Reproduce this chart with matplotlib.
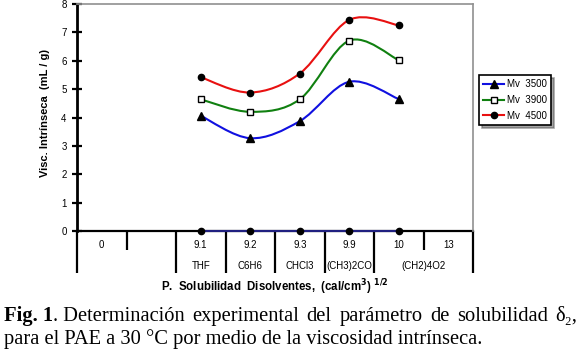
import matplotlib
matplotlib.use("Agg")
import matplotlib.pyplot as plt
import numpy as np
from matplotlib.path import Path
from matplotlib.patches import PathPatch
from matplotlib.lines import Line2D
import matplotlib.transforms as mtransforms

# ---- data ----
categories = ["0", "", "9.1", "9.2", "9.3", "9.9", "10", "13"]
groups = ["", "THF", "C6H6", "CHCl3", "(CH3)2CO", "(CH2)4O2"]
group_spans = [(0, 1), (2, 2), (3, 3), (4, 4), (5, 5), (6, 7)]
data_idx = [2, 3, 4, 5, 6]
mv3500 = [4.06, 3.27, 3.87, 5.26, 4.65]
mv3900 = [4.64, 4.20, 4.64, 6.71, 6.02]
mv4500 = [5.42, 4.88, 5.55, 7.44, 7.25]
zeros = [0, 0, 0, 0, 0]
series_names = ["Mv  3500", "Mv  3900", "Mv  4500"]

plt.rcParams['font.family'] = ['Liberation Sans', 'DejaVu Sans']

fig = plt.figure(figsize=(5.8, 3.55), dpi=100)
W, H = 580, 355
L, R, T, B = 77, 473, 4, 231
ax = fig.add_axes([L / W, (H - B) / H, (R - L) / W, (B - T) / H])
ax.set_xlim(-0.5, 7.5)
ax.set_ylim(0, 8)


def smooth_path(xs, ys):
    pts = np.column_stack([xs, ys]).astype(float)
    n = len(pts)
    verts = [pts[0]]
    codes = [Path.MOVETO]
    for i in range(n - 1):
        p0 = pts[max(i - 1, 0)]
        p1 = pts[i]
        p2 = pts[i + 1]
        p3 = pts[min(i + 2, n - 1)]
        c1 = p1 + (p2 - p0) / 6.0
        c2 = p2 - (p3 - p1) / 6.0
        verts += [c1, c2, p2]
        codes += [Path.CURVE4] * 3
    return Path(verts, codes)


colors = ["#1010e0", "#108010", "#e81010"]
markers = ["^", "s", "o"]
mfc = ["black", "white", "black"]
msz = [5.5, 4, 4.5]
for vals, c, m, fc, s in zip([mv3500, mv3900, mv4500], colors, markers, mfc, msz):
    ax.add_patch(PathPatch(smooth_path(data_idx, vals), fill=False,
                           edgecolor=c, lw=1.5, zorder=3))
    ax.plot(data_idx, vals, ls="none", marker=m, ms=s, mfc=fc, mec="black",
            mew=1.0, zorder=4, clip_on=False)

# zero series
ax.plot(data_idx, zeros, color="#202080", lw=1.5, marker="o", ms=4.5,
        mfc="black", mec="black", zorder=4, clip_on=False)

# spines
ax.spines['top'].set_color('#909090')
ax.spines['right'].set_color('#909090')
ax.spines['top'].set_linewidth(1.2)
ax.spines['right'].set_linewidth(1.2)
ax.spines['left'].set_linewidth(2)
ax.spines['bottom'].set_linewidth(1.6)
ax.spines['bottom'].set_zorder(2)

ax.set_yticks(range(0, 9))
ax.tick_params(axis='y', direction='inout', length=7, width=1.6, labelsize=7, pad=4)
ax.set_xticks([])

# multi-level category axis
trans = mtransforms.blended_transform_factory(ax.transData, ax.transAxes)
px = 1.0 / (B - T)
for i, lab in enumerate(categories):
    ax.text(i, -14 * px, lab, transform=trans, ha="center", va="center", fontsize=7)
for g, (a, b) in zip(groups, group_spans):
    ax.text((a + b) / 2.0, -35 * px, g, transform=trans, ha="center", va="center",
            fontsize=7)
# separators
group_edges = set([-0.5] + [b + 0.5 for (a, b) in group_spans])
for k in range(9):
    xe = -0.5 + k
    depth = 42 if xe in group_edges else 19
    ax.plot([xe, xe], [0, -depth * px], transform=trans, color="black", lw=1.6,
            clip_on=False, solid_capstyle="butt")

fig.text(45 / W, 1 - 113 / H, "Visc. Intrínseca  (mL / g)", rotation=90,
         fontsize=8, fontweight="bold", ha="center", va="center")
fig.text(275 / W, 1 - 287 / H,
         r"P.  Solubilidad  Disolventes,  (cal/cm$^{\mathbf{3}}$) $^{\mathbf{1/2}}$",
         ha="center", va="center", fontsize=8.3, fontweight="bold")

# legend
handles = [Line2D([], [], color=c, marker=m, ms=s, mfc=fc, mec="black", lw=1.5)
           for c, m, fc, s in zip(colors, markers, mfc, msz)]
leg = fig.legend(handles, series_names, loc="center",
                 bbox_to_anchor=(515 / W, 1 - 100 / H), fontsize=7,
                 frameon=True, fancybox=False, shadow=True, edgecolor="black",
                 handlelength=2.2, handletextpad=0.3, borderpad=0.4,
                 labelspacing=0.6, borderaxespad=0)
leg.get_frame().set_linewidth(1.2)

# caption (line 1 justified)
cap_fs = 14.8
serif = ["Liberation Serif", "DejaVu Serif"]
x0, x_end = 4, 577
base1, base2 = 321, 344
words1 = [("Fig. 1", "bold"), (". Determinación", "normal"), ("experimental", "normal"),
          ("del", "normal"), ("parámetro", "normal"), ("de", "normal"),
          ("solubilidad", "normal"), ("δ₂,", "normal")]
fig.canvas.draw()
r = fig.canvas.get_renderer()
texts = []
for w, fw in words1:
    t = fig.text(0, 1 - base1 / H, w, fontsize=cap_fs, va="baseline",
                 family=serif, fontweight=fw)
    texts.append(t)
widths = [t.get_window_extent(r).width for t in texts]
# "Fig. 1" and ". Determinación" are glued
n_gaps = len(words1) - 2
gap = (x_end - x0 - sum(widths)) / n_gaps
x = x0
for i, (t, wd) in enumerate(zip(texts, widths)):
    t.set_x(x / W)
    x += wd + (0 if i == 0 else gap)
fig.text(x0 / W, 1 - base2 / H,
         "para el PAE a 30 °C por medio de la viscosidad intrínseca.",
         fontsize=cap_fs, va="baseline", family=serif)

fig.savefig("out.png", dpi=100)
